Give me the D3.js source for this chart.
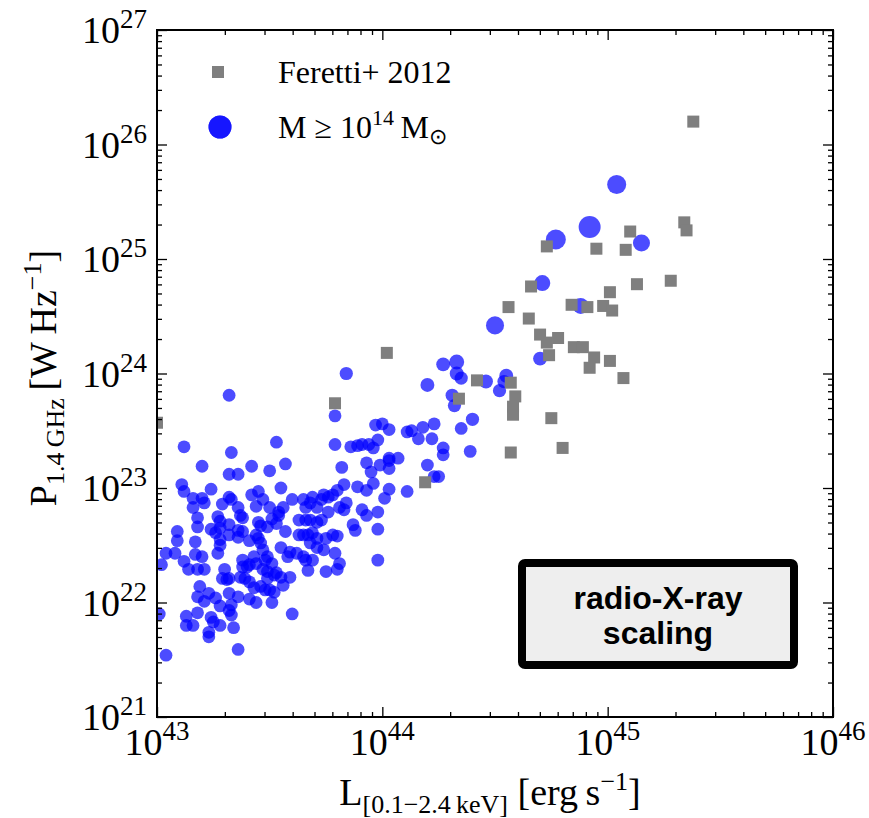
<!DOCTYPE html>
<html>
<head>
<meta charset="utf-8">
<script src="https://cdn.jsdelivr.net/npm/d3@7"></script>
<style>
  body { margin: 0; background: #fff; }
  svg { display: block; }
</style>
</head>
<body>
<div id="chart"></div>
<script>
// tick label exponents
var xExponents = [43, 44, 45, 46];
var yExponents = [21, 22, 23, 24, 25, 26, 27];

// Feretti+ 2012: [log10 L_X, log10 P_1.4]
var feretti = [
  [43.00, 23.57], [43.79, 23.74], [44.02, 24.18], [44.19, 23.05], [44.34, 23.78],
  [44.42, 23.94], [44.57, 23.92], [44.59, 23.80], [44.58, 23.71], [44.58, 23.64],
  [44.57, 23.31], [44.75, 23.61], [44.80, 23.35], [44.56, 24.58], [44.65, 24.48],
  [44.66, 24.76], [44.70, 24.34], [44.73, 24.27], [44.74, 24.16], [44.78, 24.31],
  [44.85, 24.23], [44.89, 24.23], [44.94, 24.14], [44.92, 24.05], [45.01, 24.11],
  [45.07, 23.96], [44.84, 24.60], [44.91, 24.58], [44.98, 24.59], [45.02, 24.55],
  [45.01, 24.71], [45.13, 24.78], [45.28, 24.81], [44.73, 25.11], [44.95, 25.09],
  [45.08, 25.08], [45.10, 25.24], [45.34, 25.32], [45.35, 25.25], [45.38, 26.20]
];

// simulated haloes with larger masses: [log10 L_X, log10 P_1.4, M / 1e14 Msun]
var massive = [
  [45.04, 25.65, 3.0], [44.92, 25.28, 4.0], [44.77, 25.17, 3.3], [45.15, 25.14, 2.4],
  [44.71, 24.79, 2.1], [44.88, 24.59, 2.1], [44.50, 24.42, 2.7], [44.70, 24.13, 1.6],
  [44.27, 24.08, 1.6], [44.33, 24.10, 1.85], [44.33, 24.00, 1.6], [44.35, 23.96, 1.45],
  [44.20, 23.90, 1.6], [44.46, 23.93, 1.6], [44.55, 23.98, 1.6], [44.54, 23.93, 1.45],
  [44.52, 23.85, 1.45], [44.31, 23.81, 1.45], [44.32, 23.72, 1.45], [44.40, 23.60, 1.45],
  [43.84, 24.00, 1.45]
];

// rest of the simulated haloes: [log10 L_X, log10 P_1.4]
var simulated = [
  [44.27, 23.35], [44.27, 23.29], [44.39, 23.32], [44.35, 23.52], [44.23, 23.56],
  [44.18, 23.53], [44.13, 23.50], [44.16, 23.43], [44.22, 23.43], [44.20, 23.20],
  [43.97, 23.55], [44.00, 23.56], [44.03, 23.51], [43.98, 23.42], [44.03, 23.26],
  [44.07, 23.26], [43.32, 23.81], [43.79, 23.63], [43.12, 23.36], [43.33, 23.31],
  [43.53, 23.40], [43.79, 23.38], [43.20, 23.19], [43.32, 23.12], [43.36, 23.12],
  [43.42, 23.19], [43.50, 23.15], [43.57, 23.21], [43.82, 23.18], [43.86, 23.36],
  [43.89, 23.37], [43.91, 23.38], [43.94, 23.38], [43.96, 23.35], [44.11, 23.49],
  [43.93, 23.22], [43.95, 23.14], [43.99, 23.20], [44.03, 23.24], [44.03, 23.17],
  [44.23, 23.10], [44.25, 23.10], [43.96, 23.04], [44.03, 22.99], [44.01, 22.91],
  [44.11, 22.97], [43.89, 23.01], [43.93, 22.98], [43.83, 23.03], [43.80, 22.98],
  [43.78, 22.94], [43.76, 22.92], [43.74, 22.94], [43.73, 22.90], [43.55, 23.00],
  [43.11, 23.03], [43.12, 22.97], [43.24, 22.99], [43.16, 22.91], [43.16, 22.83],
  [43.20, 22.91], [43.21, 22.87], [43.32, 22.92], [43.33, 22.90], [43.29, 22.86],
  [43.36, 22.83], [43.37, 22.76], [43.38, 22.74], [43.42, 22.94], [43.45, 22.97],
  [43.47, 22.90], [43.44, 22.84], [43.50, 22.83], [43.54, 22.79], [43.56, 22.83],
  [43.60, 22.90], [43.65, 22.90], [43.68, 22.87], [43.69, 22.92], [43.66, 22.83],
  [43.71, 22.83], [43.76, 22.79], [43.81, 22.83], [43.83, 22.81], [43.84, 22.87],
  [43.91, 22.81], [43.93, 22.76], [43.98, 22.79], [43.18, 22.74], [43.18, 22.66],
  [43.27, 22.75], [43.28, 22.71], [43.28, 22.65], [43.24, 22.64], [43.26, 22.61],
  [43.09, 22.62], [43.09, 22.54], [43.17, 22.53], [43.04, 22.43], [43.08, 22.43],
  [43.32, 22.68], [43.32, 22.59], [43.36, 22.63], [43.38, 22.62], [43.36, 22.57],
  [43.45, 22.70], [43.46, 22.67], [43.44, 22.59], [43.49, 22.66], [43.53, 22.69],
  [43.54, 22.76], [43.51, 22.73], [43.57, 22.62], [43.63, 22.72], [43.66, 22.72],
  [43.68, 22.72], [43.71, 22.70], [43.73, 22.72], [43.63, 22.59], [43.65, 22.59],
  [43.67, 22.59], [43.69, 22.61], [43.71, 22.56], [43.68, 22.52], [43.75, 22.56],
  [43.80, 22.58], [43.78, 22.59], [43.87, 22.68], [43.88, 22.63], [43.98, 22.64],
  [43.79, 22.43], [43.81, 22.34], [43.80, 22.29], [43.75, 22.27], [43.98, 22.37],
  [43.67, 22.28], [43.17, 22.42], [43.20, 22.40], [43.18, 22.29], [43.21, 22.29],
  [43.12, 22.36], [43.14, 22.29], [43.27, 22.43], [43.02, 22.33], [43.28, 22.50],
  [43.28, 22.55], [43.38, 22.37], [43.38, 22.31], [43.40, 22.31], [43.43, 22.40],
  [43.44, 22.34], [43.41, 22.33], [43.47, 22.46], [43.48, 22.37], [43.49, 22.40],
  [43.51, 22.34], [43.55, 22.48], [43.58, 22.40], [43.59, 22.44], [43.62, 22.43],
  [43.65, 22.40], [43.66, 22.37], [43.69, 22.37], [43.71, 22.48], [43.74, 22.46],
  [43.30, 22.29], [43.32, 22.21], [43.29, 22.21], [43.31, 22.20], [43.37, 22.22],
  [43.39, 22.21], [43.41, 22.18], [43.43, 22.13], [43.47, 22.29], [43.49, 22.21],
  [43.52, 22.24], [43.55, 22.22], [43.56, 22.15], [43.59, 22.22], [43.49, 22.27],
  [43.53, 22.26], [43.46, 22.14], [43.44, 22.00], [43.48, 22.11], [43.50, 22.11],
  [43.51, 22.00], [43.52, 22.09], [43.19, 22.14], [43.18, 22.05], [43.23, 22.08],
  [43.21, 22.01], [43.26, 22.04], [43.28, 21.97], [43.32, 22.08], [43.33, 21.98],
  [43.36, 22.05], [43.41, 22.03], [43.13, 21.88], [43.13, 21.80], [43.16, 21.80],
  [43.18, 21.91], [43.24, 21.87], [43.25, 21.83], [43.28, 21.80], [43.23, 21.74],
  [43.23, 21.70], [43.33, 21.89], [43.32, 21.93], [43.34, 21.78], [43.60, 21.90],
  [43.36, 21.59], [43.04, 21.54], [43.01, 21.90], [43.46, 22.52], [43.41, 22.54],
  [43.45, 22.56]
];
var baseMass = 1.35;

var width = 869, height = 818;
var plotLeft = 157, plotRight = 833, plotTop = 30, plotBottom = 717;
var serif = "'Liberation Serif', 'Times New Roman', serif";

var svg = d3.select('#chart')
    .append('svg')
    .attr('width', width)
    .attr('height', height);

var x = d3.scaleLog().domain([1e43, 1e46]).range([plotLeft, plotRight]);
var y = d3.scaleLog().domain([1e21, 1e27]).range([plotBottom, plotTop]);
var r = d3.scaleSqrt().domain([0, 4]).range([0, 11]);

function pow(v) { return Math.pow(10, v); }

svg.append('clipPath').attr('id', 'plotclip')
    .append('rect')
    .attr('x', plotLeft).attr('y', plotTop)
    .attr('width', plotRight - plotLeft).attr('height', plotBottom - plotTop);

var plot = svg.append('g').attr('clip-path', 'url(#plotclip)');

// simulated haloes
plot.selectAll('circle.sim')
    .data(simulated)
    .enter()
    .append('circle')
    .attr('class', 'sim')
    .attr('cx', d => x(pow(d[0])))
    .attr('cy', d => y(pow(d[1])))
    .attr('r', r(baseMass))
    .attr('fill', 'blue')
    .attr('fill-opacity', 0.7);

plot.selectAll('circle.big')
    .data(massive)
    .enter()
    .append('circle')
    .attr('class', 'big')
    .attr('cx', d => x(pow(d[0])))
    .attr('cy', d => y(pow(d[1])))
    .attr('r', d => r(d[2]))
    .attr('fill', 'blue')
    .attr('fill-opacity', 0.7);

// observed
var sq = 12;
plot.selectAll('rect.obs')
    .data(feretti)
    .enter()
    .append('rect')
    .attr('class', 'obs')
    .attr('x', d => x(pow(d[0])) - sq / 2)
    .attr('y', d => y(pow(d[1])) - sq / 2)
    .attr('width', sq)
    .attr('height', sq)
    .attr('fill', '#7f7f7f');

// ticks, pointing inwards on all four sides
var xMajor = xExponents.map(pow);
var yMajor = yExponents.map(pow);
var xMinor = [], yMinor = [];
xExponents.slice(0, -1).forEach(e => { for (var k = 2; k < 10; k++) xMinor.push(k * pow(e)); });
yExponents.slice(0, -1).forEach(e => { for (var k = 2; k < 10; k++) yMinor.push(k * pow(e)); });

function ticks(axis, vals, size, tx, ty) {
    var g = svg.append('g')
        .attr('transform', 'translate(' + tx + ',' + ty + ')')
        .call(axis.tickValues(vals).tickSize(-size).tickFormat(''));
    g.select('.domain').remove();
    g.selectAll('line').attr('stroke', '#000').attr('stroke-width', 1.3);
}
ticks(d3.axisBottom(x), xMajor, 10, 0, plotBottom);
ticks(d3.axisBottom(x), xMinor, 5, 0, plotBottom);
ticks(d3.axisTop(x), xMajor, 10, 0, plotTop);
ticks(d3.axisTop(x), xMinor, 5, 0, plotTop);
ticks(d3.axisLeft(y), yMajor, 10, plotLeft, 0);
ticks(d3.axisLeft(y), yMinor, 5, plotLeft, 0);
ticks(d3.axisRight(y), yMajor, 10, plotRight, 0);
ticks(d3.axisRight(y), yMinor, 5, plotRight, 0);

svg.append('rect')
    .attr('x', plotLeft).attr('y', plotTop)
    .attr('width', plotRight - plotLeft).attr('height', plotBottom - plotTop)
    .attr('fill', 'none')
    .attr('stroke', '#000')
    .attr('stroke-width', 2);

// tick labels
var xl = svg.selectAll('text.xl')
    .data(xExponents)
    .enter()
    .append('text')
    .attr('class', 'xl')
    .attr('x', d => x(pow(d)))
    .attr('y', plotBottom + 38)
    .attr('text-anchor', 'middle')
    .style('font-family', serif)
    .style('font-size', '38px');
xl.append('tspan').text('10');
xl.append('tspan').attr('dy', -15).style('font-size', '27px').text(d => d);

var yl = svg.selectAll('text.yl')
    .data(yExponents)
    .enter()
    .append('text')
    .attr('class', 'yl')
    .attr('x', plotLeft - 10)
    .attr('y', d => y(pow(d)) + 13)
    .attr('text-anchor', 'end')
    .style('font-family', serif)
    .style('font-size', '38px');
yl.append('tspan').text('10');
yl.append('tspan').attr('dy', -15).style('font-size', '27px').text(d => d);

// axis titles
var xt = svg.append('text')
    .attr('x', 490)
    .attr('y', 805)
    .attr('text-anchor', 'middle')
    .style('font-family', serif)
    .style('font-size', '38px');
xt.append('tspan').text('L');
xt.append('tspan').attr('dy', 8).style('font-size', '26px').text('[0.1\u22122.4\u2009keV]');
xt.append('tspan').attr('dy', -8).text(' [erg\u2009s');
xt.append('tspan').attr('dy', -15).style('font-size', '26px').text('\u22121');
xt.append('tspan').attr('dy', 15).text(']');

var yt = svg.append('text')
    .attr('transform', 'translate(56,378) rotate(-90)')
    .attr('text-anchor', 'middle')
    .style('font-family', serif)
    .style('font-size', '38px');
yt.append('tspan').text('P');
yt.append('tspan').attr('dy', 8).style('font-size', '26px').text('1.4\u2009GHz');
yt.append('tspan').attr('dy', -8).text('\u2009[W\u2009Hz');
yt.append('tspan').attr('dy', -15).style('font-size', '26px').text('\u22121');
yt.append('tspan').attr('dy', 15).text(']');

// legend
svg.append('rect')
    .attr('x', 218 - sq / 2).attr('y', 72 - sq / 2)
    .attr('width', sq).attr('height', sq)
    .attr('fill', '#7f7f7f');
svg.append('text')
    .attr('x', 278).attr('y', 83)
    .style('font-family', serif)
    .style('font-size', '32px')
    .text('Feretti+ 2012');

[0, 1].forEach(function() {
    svg.append('circle')
        .attr('cx', 220).attr('cy', 127).attr('r', 11.5)
        .attr('fill', 'blue').attr('fill-opacity', 0.7);
});
var lt = svg.append('text')
    .attr('x', 278).attr('y', 138)
    .style('font-family', serif)
    .style('font-size', '32px');
lt.append('tspan').text('M \u2265 10');
lt.append('tspan').attr('dy', -13).style('font-size', '22px').text('14');
lt.append('tspan').attr('dy', 13).text('\u2009M');
lt.append('tspan').attr('dy', 6).style('font-size', '22px').text('\u2299');

// annotation box
svg.append('rect')
    .attr('x', 522).attr('y', 563)
    .attr('width', 272).attr('height', 102)
    .attr('rx', 3)
    .attr('fill', '#eeeeee')
    .attr('stroke', '#000')
    .attr('stroke-width', 8);
svg.append('text')
    .attr('x', 658).attr('y', 609)
    .attr('text-anchor', 'middle')
    .style('font-family', "'Liberation Sans', Arial, sans-serif")
    .style('font-weight', 'bold')
    .style('font-size', '32px')
    .text('radio-X-ray');
svg.append('text')
    .attr('x', 658).attr('y', 644)
    .attr('text-anchor', 'middle')
    .style('font-family', "'Liberation Sans', Arial, sans-serif")
    .style('font-weight', 'bold')
    .style('font-size', '32px')
    .text('scaling');
</script>
</body>
</html>
